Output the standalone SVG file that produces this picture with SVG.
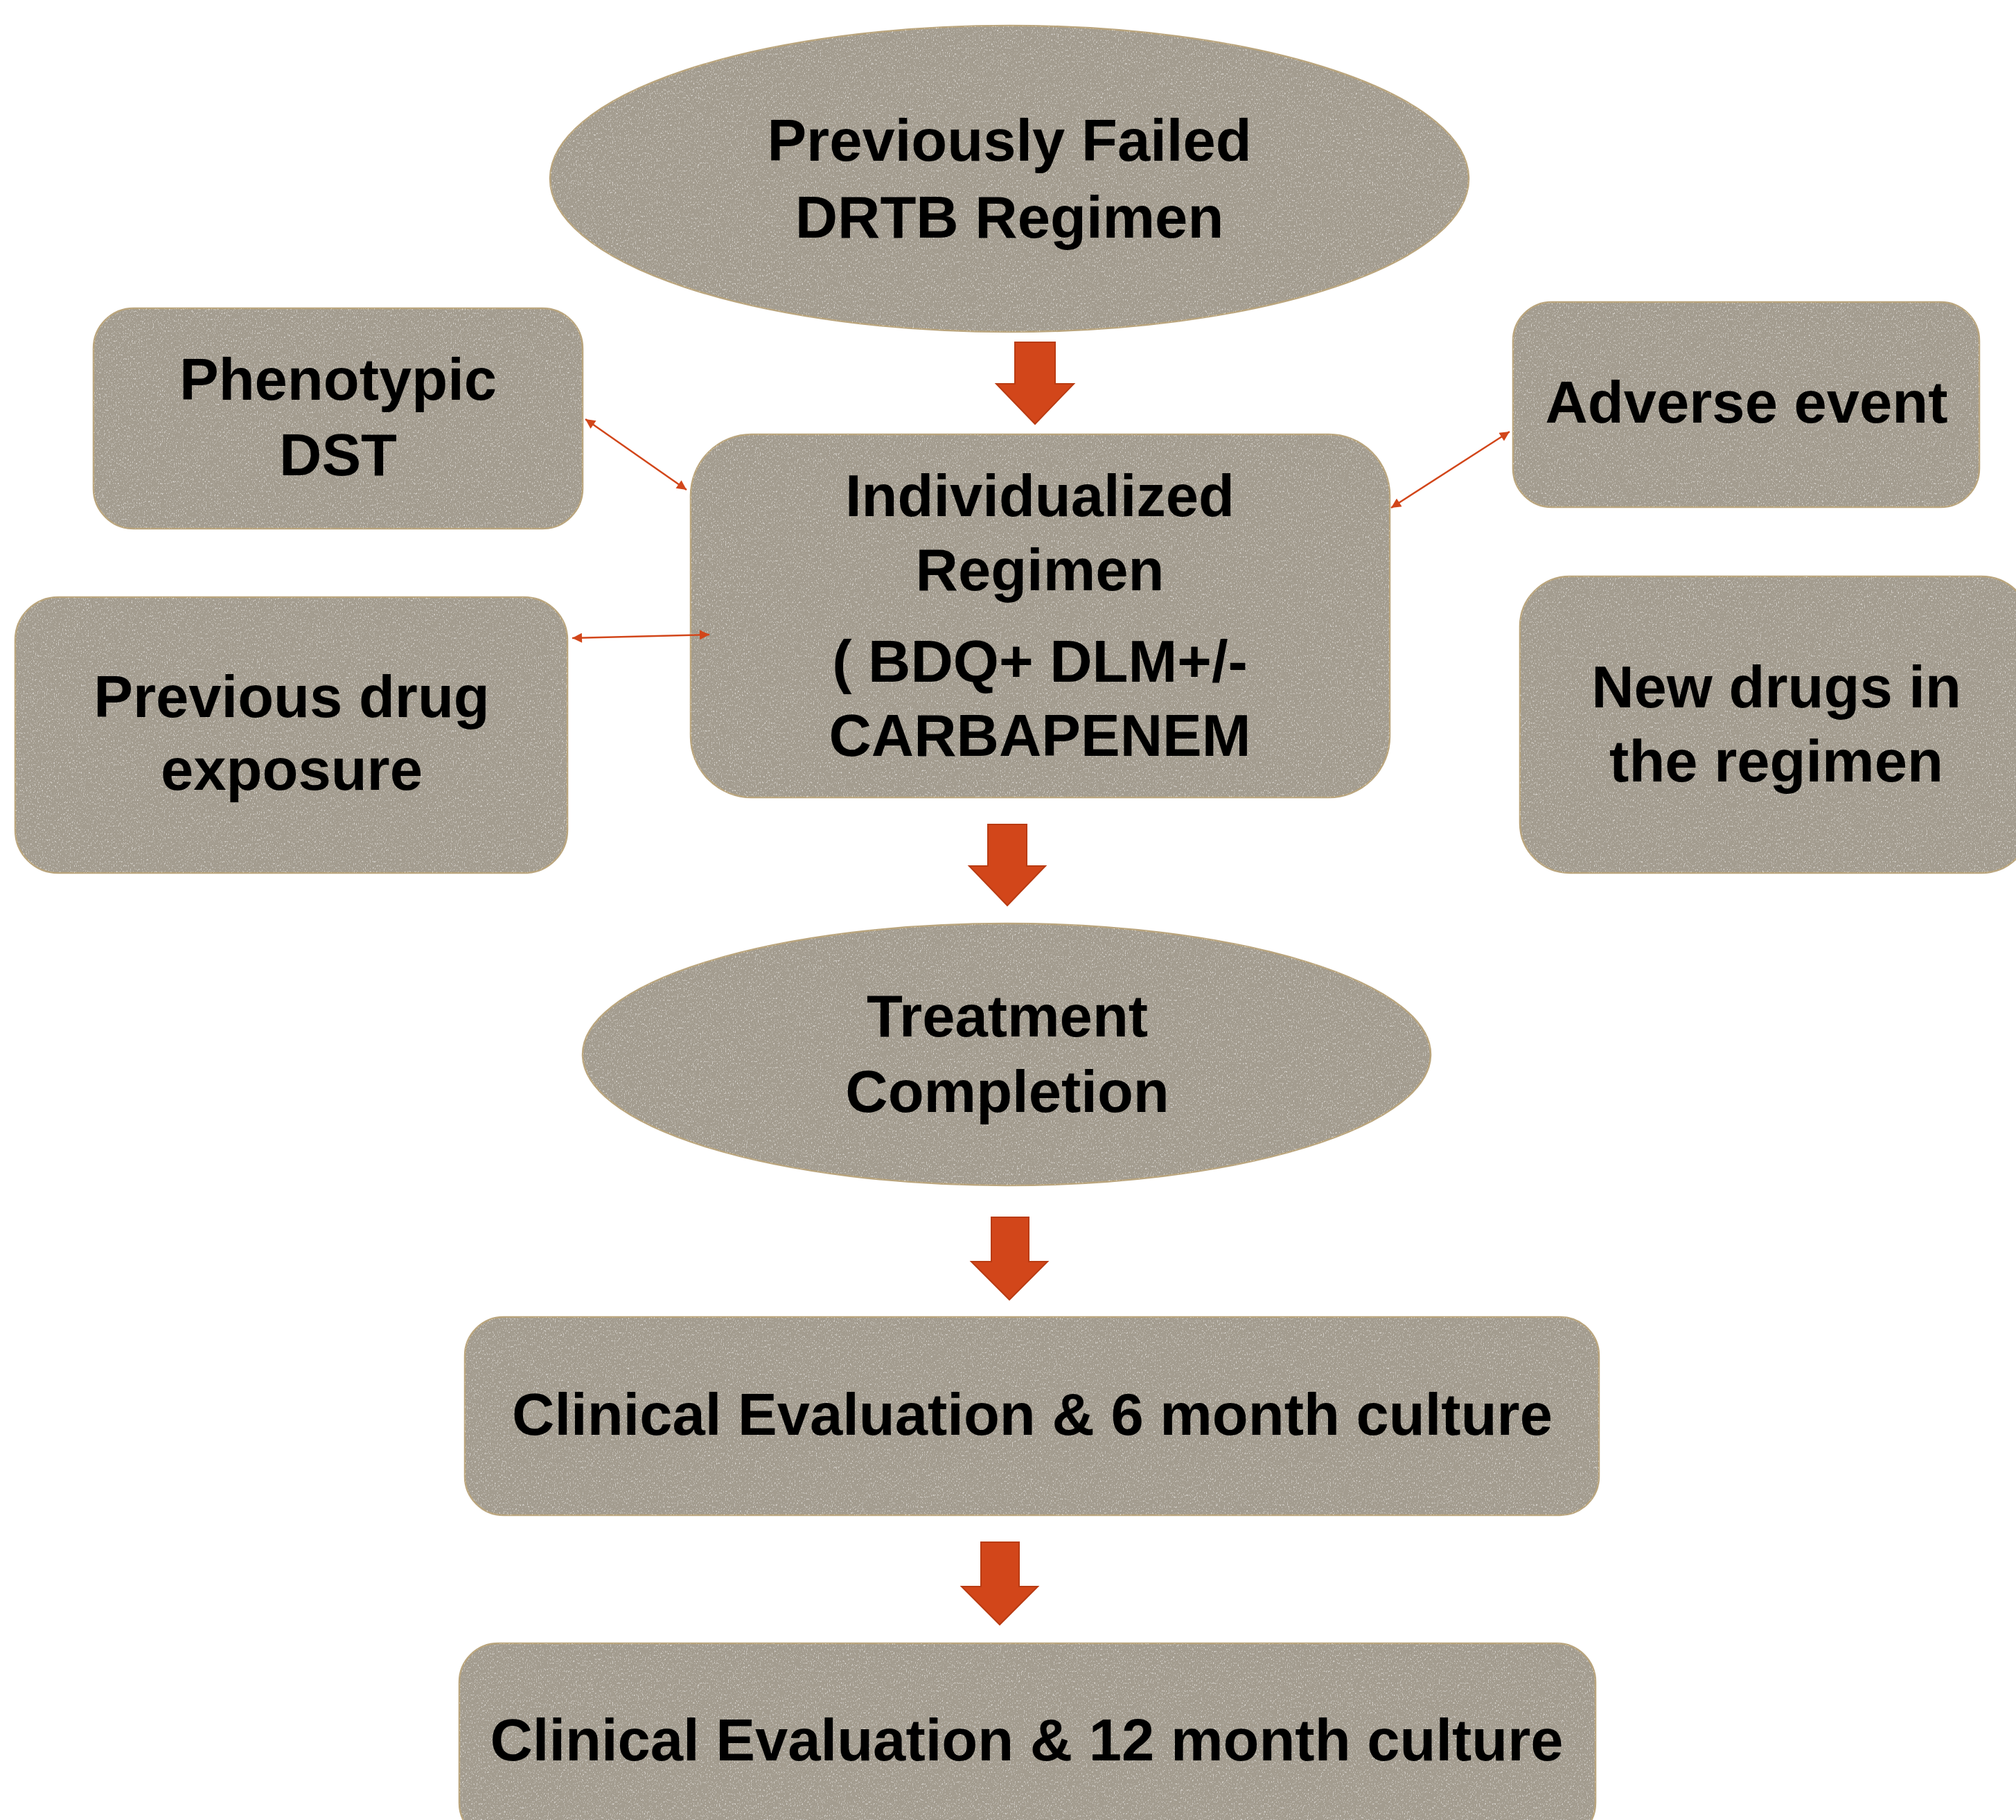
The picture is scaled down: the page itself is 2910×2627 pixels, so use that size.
<svg xmlns="http://www.w3.org/2000/svg" xmlns:xlink="http://www.w3.org/1999/xlink" width="2910" height="2627" viewBox="0 0 2910 2627">
<style>
.shape{fill:#A39C8F;stroke:#B9A47C;stroke-width:2.5}
.grain{fill:#A39C8F;stroke:none;filter:url(#grain)}
.lbl{font-family:"Liberation Sans",Arial,sans-serif;font-weight:bold;font-size:85px;fill:#000;text-anchor:middle}
.block{fill:#D2461A;stroke:#B93B12;stroke-width:2}
.thin{fill:none;stroke:#D2461A;stroke-width:2.5;marker-start:url(#ah);marker-end:url(#ah)}
</style>
<defs>
<filter id="grain" x="0" y="0" width="1" height="1" filterUnits="objectBoundingBox">
<feTurbulence type="fractalNoise" baseFrequency="0.7 0.35" numOctaves="2" seed="5" result="n"/>
<feColorMatrix in="n" type="matrix" values="0 0 0 0 1  0 0 0 0 1  0 0 0 0 1  5 0 0 0 -2.9" result="w"/>
<feComposite in="w" in2="SourceGraphic" operator="in" result="c"/>
<feComponentTransfer in="c"><feFuncA type="linear" slope="0.55"/></feComponentTransfer>
</filter>
<marker id="ah" viewBox="0 0 10 10" refX="10" refY="5" markerUnits="userSpaceOnUse" markerWidth="18" markerHeight="14" orient="auto-start-reverse">
<path d="M0,0 L10,5 L0,10 z" fill="#D2461A"/>
</marker>
</defs>
<rect width="2910" height="2627" fill="#fff"/>

<g id="node-failed">
<ellipse class="shape" cx="1457" cy="258" rx="663" ry="221"/>
<ellipse class="grain" cx="1457" cy="258" rx="663" ry="221"/>
<text class="lbl" x="1457" y="232">Previously Failed</text>
<text class="lbl" x="1457" y="343">DRTB Regimen</text>
</g>

<g id="node-phenotypic">
<rect class="shape" x="135" y="445" width="706" height="318" rx="58"/>
<rect class="grain" x="135" y="445" width="706" height="318" rx="58"/>
<text class="lbl" x="488" y="577">Phenotypic</text>
<text class="lbl" x="488" y="686">DST</text>
</g>

<g id="node-previous">
<rect class="shape" x="22" y="862" width="797" height="398" rx="62"/>
<rect class="grain" x="22" y="862" width="797" height="398" rx="62"/>
<text class="lbl" x="421" y="1035">Previous drug</text>
<text class="lbl" x="421" y="1140">exposure</text>
</g>

<g id="node-individualized">
<rect class="shape" x="997" y="627" width="1009" height="524" rx="88"/>
<rect class="grain" x="997" y="627" width="1009" height="524" rx="88"/>
<text class="lbl" x="1501" y="745">Individualized</text>
<text class="lbl" x="1501" y="852">Regimen</text>
<text class="lbl" x="1501" y="984">( BDQ+ DLM+/-</text>
<text class="lbl" x="1501" y="1091">CARBAPENEM</text>
</g>

<g id="node-adverse">
<rect class="shape" x="2184" y="436" width="673" height="296" rx="56"/>
<rect class="grain" x="2184" y="436" width="673" height="296" rx="56"/>
<text class="lbl" x="2521" y="610">Adverse event</text>
</g>

<g id="node-newdrugs">
<rect class="shape" x="2194" y="832" width="738" height="428" rx="72"/>
<rect class="grain" x="2194" y="832" width="738" height="428" rx="72"/>
<text class="lbl" x="2564" y="1021">New drugs in</text>
<text class="lbl" x="2564" y="1128">the regimen</text>
</g>

<g id="node-completion">
<ellipse class="shape" cx="1453" cy="1522" rx="612" ry="189"/>
<ellipse class="grain" cx="1453" cy="1522" rx="612" ry="189"/>
<text class="lbl" x="1454" y="1496">Treatment</text>
<text class="lbl" x="1454" y="1605">Completion</text>
</g>

<g id="node-eval6">
<rect class="shape" x="671" y="1901" width="1637" height="286" rx="56"/>
<rect class="grain" x="671" y="1901" width="1637" height="286" rx="56"/>
<text class="lbl" x="1490" y="2071">Clinical Evaluation &amp; 6 month culture</text>
</g>

<g id="node-eval12">
<rect class="shape" x="663" y="2372" width="1640" height="286" rx="56"/>
<rect class="grain" x="663" y="2372" width="1640" height="286" rx="56"/>
<text class="lbl" x="1482" y="2541">Clinical Evaluation &amp; 12 month culture</text>
</g>

<g id="connectors">
<path class="block" d="M1465,494 H1523 V554 H1550 L1494,612 L1438,554 H1465 Z"/>
<path class="block" d="M1426,1190 H1482 V1250 H1509 L1454,1307 L1399,1250 H1426 Z"/>
<path class="block" d="M1431,1757 H1485 V1821 H1512 L1457,1876 L1402,1821 H1431 Z"/>
<path class="block" d="M1416,2226 H1471 V2290 H1498 L1443,2345 L1388,2290 H1416 Z"/>
<line class="thin" x1="845" y1="605" x2="991" y2="707"/>
<line class="thin" x1="826" y1="921" x2="1024" y2="916"/>
<line class="thin" x1="2008" y1="733" x2="2179" y2="623"/>
</g>
</svg>
